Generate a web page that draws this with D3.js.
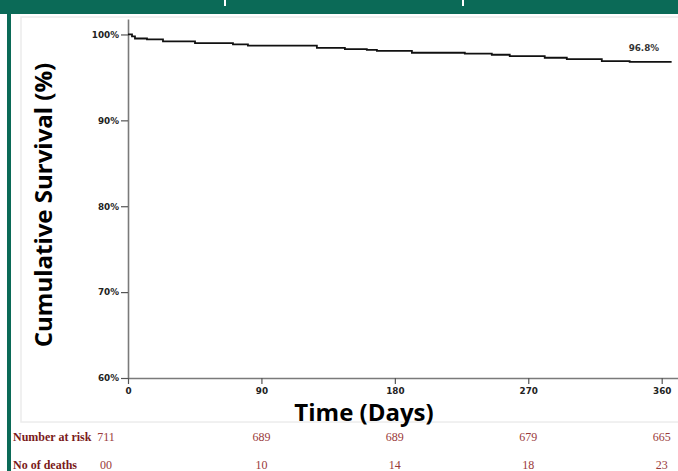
<!DOCTYPE html>
<html><head><meta charset="utf-8">
<script src="https://cdn.jsdelivr.net/npm/d3@7"></script>
<style>html,body{margin:0;padding:0;background:#fff;overflow:hidden}</style>
</head><body>
<svg id="c" width="678" height="471"></svg>
<script>
// ---- data ----
const timeDays    = [0, 2.7, 4.7, 12.8, 23.6, 45.2, 70.8, 80.9, 127.4, 146.3, 161.1, 167.9, 191.5, 227.2, 245.4, 257.5, 281.1, 296, 319.6, 338.4, 366.7];
const survivalPct = [100, 99.77, 99.53, 99.42, 99.19, 98.99, 98.84, 98.69, 98.43, 98.29, 98.2, 98.08, 97.87, 97.76, 97.64, 97.48, 97.29, 97.13, 96.9, 96.8, 96.8];
const xTicks = [0, 90, 180, 270, 360];
const yTicks = [60, 70, 80, 90, 100];
const riskLabel = "Number at risk";
const numberAtRisk = ["711", "689", "689", "679", "665"];
const deathsLabel = "No of deaths";
const numberDeaths = ["00", "10", "14", "18", "23"];
const endLabel = "96.8%";
const xTitle = "Time (Days)";
const yTitle = "Cumulative Survival (%)";

const svg = d3.select("#c");
const green = "#0b6a57";

// frame / decoration
svg.append("rect").attr("x",21).attr("y",17).attr("width",700).attr("height",405)
  .attr("fill","none").attr("stroke","#ececec").attr("stroke-width",1.5);
svg.append("rect").attr("x",0).attr("y",0).attr("width",678).attr("height",14).attr("fill",green);
svg.append("rect").attr("x",7).attr("y",0).attr("width",4).attr("height",471).attr("fill",green);
svg.append("rect").attr("x",224).attr("y",0).attr("width",2).attr("height",6).attr("fill","#fff");
svg.append("rect").attr("x",462).attr("y",0).attr("width",2).attr("height",6).attr("fill","#fff");

const x = d3.scaleLinear().domain([0, 371]).range([128, 678]);
const y = d3.scaleLinear().domain([60, 101.8]).range([378, 19]);

const axisColor = "#7a7a7a";
const tickFont = "'DejaVu Sans', Verdana, sans-serif";

const gy = svg.append("g").attr("transform", `translate(${x(0)},0)`)
  .call(d3.axisLeft(y).tickValues(yTicks).tickSize(7).tickSizeOuter(0).tickPadding(2).tickFormat(d => d + "%"));
const gx = svg.append("g").attr("transform", `translate(0,${y(60)})`)
  .call(d3.axisBottom(x).tickValues(xTicks).tickSize(6).tickSizeOuter(0).tickPadding(4));
[gy, gx].forEach(g => {
  g.select(".domain").attr("stroke", axisColor).attr("stroke-width", 1.6);
  g.selectAll(".tick line").attr("stroke", "#555").attr("stroke-width", 1.2);
  g.selectAll(".tick text").attr("font-family", tickFont).attr("font-weight", "bold")
    .attr("font-size", 8.8).attr("fill", "#222");
});

// survival curve
const pts = timeDays.map((t, i) => [t, survivalPct[i]]);
svg.append("path").datum(pts)
  .attr("d", d3.line().x(d => x(d[0])).y(d => y(d[1])).curve(d3.curveStepAfter))
  .attr("fill", "none").attr("stroke", "#111").attr("stroke-width", 1.8);

svg.append("text").attr("x", x(348)).attr("y", y(98.1)).attr("text-anchor", "middle")
  .attr("font-family", tickFont).attr("font-weight", "bold").attr("font-size", 8.8)
  .attr("fill", "#333").text(endLabel);

// axis titles
const titleFont = "'Open Sans', 'Noto Sans', sans-serif";
svg.append("text").attr("x", 364).attr("y", 421).attr("text-anchor", "middle")
  .attr("font-family", titleFont).attr("font-weight", "bold").attr("font-size", 24)
  .attr("fill", "#000").text(xTitle);
svg.append("text").attr("transform", "translate(52,205) rotate(-90)").attr("text-anchor", "middle")
  .attr("font-family", titleFont).attr("font-weight", "bold").attr("font-size", 24)
  .attr("fill", "#000").text(yTitle);

// risk table
const serif = "'Liberation Serif', 'Times New Roman', serif";
const rows = [[riskLabel, numberAtRisk, 441], [deathsLabel, numberDeaths, 469]];
rows.forEach(([lab, vals, yy]) => {
  svg.append("text").attr("x", 13).attr("y", yy).attr("font-family", serif)
    .attr("font-weight", "bold").attr("font-size", 12).attr("fill", "#7a1a1a").text(lab);
  svg.selectAll(null).data(vals).enter().append("text")
    .attr("x", (d, i) => i === 0 ? x(xTicks[i]) - 22 : x(xTicks[i]))
    .attr("y", yy).attr("text-anchor", "middle").attr("font-family", serif)
    .attr("font-size", 12).attr("fill", "#9a3a3a").text(d => d);
});
</script>
</body></html>
